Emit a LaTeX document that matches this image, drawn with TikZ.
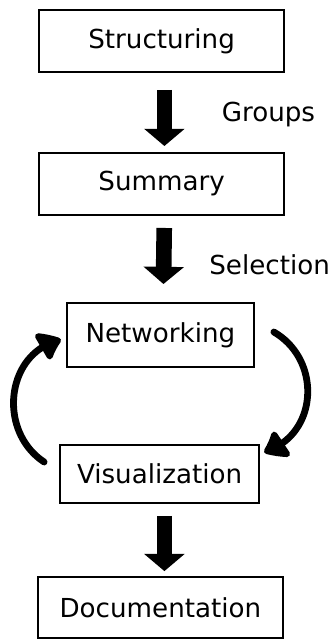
\documentclass[tikz,border=0pt]{standalone}
\usepackage{fontspec}
\setmainfont{DejaVu Sans}
\usetikzlibrary{arrows.meta,bending}

\begin{document}
\begin{tikzpicture}[
    font=\fontsize{18.6}{22}\selectfont,
    box/.style={draw, line width=1.4pt, inner sep=0pt},
    bigarrow/.style={line width=0.39cm, -{Triangle[width=0.99cm,length=0.43cm]}},
    loopline/.style={line width=0.17cm, line cap=round, -{Triangle[width=0.84cm,length=0.6cm,round,bend]}}
    ]
        \useasboundingbox (0,0) rectangle (8.35,-15.975);

        \node[box, minimum width=6.125cm, minimum height=1.55cm] (struct) at (4.04,-1.025) {Structuring};
        \node[box, minimum width=6.125cm, minimum height=1.55cm] (summ) at (4.04,-4.6) {Summary};
        \node[box, minimum width=4.675cm, minimum height=1.6cm] (netw) at (4.01,-8.375) {Networking};
        \node[box, minimum width=4.975cm, minimum height=1.45cm] (visu) at (3.99,-11.85) {Visualization};
        \node[box, minimum width=6.125cm, minimum height=1.525cm] (docu) at (4.01,-15.19) {Documentation};

        \draw[bigarrow, shorten <=0.425cm, shorten >=0.15cm] ([xshift=0.07cm]struct.south) -- ([xshift=0.07cm]summ.north);
        \draw[bigarrow, shorten <=0.3cm, shorten >=0.45cm] ([xshift=0.07cm]summ.south) -- ([xshift=0.07cm]netw.north);
        \draw[bigarrow, shorten <=0.3cm, shorten >=0.125cm] ([xshift=0.12cm]visu.south) -- ([xshift=0.1cm]docu.north);

        \node (groups) at (6.71,-2.875) {Groups};
        \node (select) at (6.74,-6.625) {Selection};

        \draw[loopline] ([shift={(0.475,0.075)}]netw.east) .. controls +(1.22,-0.71) and +(1.35,0.4) .. ([shift={(0.1,0.55)}]visu.east);
        \draw[loopline] ([shift={(-0.375,0.3)}]visu.west) .. controls +(-1.18,0.78) and +(-1.38,-0.3) .. ([shift={(-0.125,-0.12)}]netw.west);
    \end{tikzpicture}
\end{document}
